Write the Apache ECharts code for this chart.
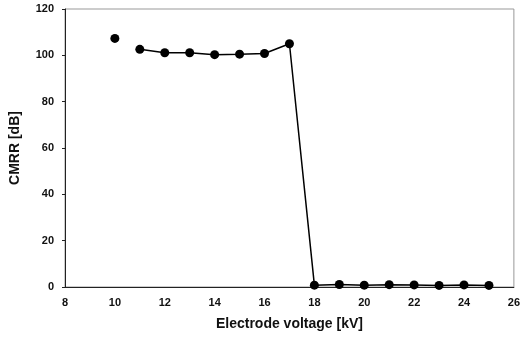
<!DOCTYPE html>
<html><head><meta charset="utf-8">
<script src="https://cdn.jsdelivr.net/npm/echarts@6/dist/echarts.min.js"></script>
<style>html,body{margin:0;padding:0;background:#fff}#c{width:523px;height:337px}</style>
</head><body><div id="c"></div>
<script>
var isolatedVoltage = [10];
var isolatedCmrr = [107.3];
var lineVoltage = [11, 12, 13, 14, 15, 16, 17, 18, 19, 20, 21, 22, 23, 24, 25];
var lineCmrr = [102.6, 101.1, 101.1, 100.3, 100.5, 100.8, 105.0, 0.8, 1.1, 0.8, 1.0, 0.9, 0.7, 0.9, 0.7];
var xTicks = [8, 10, 12, 14, 16, 18, 20, 22, 24, 26];
var yTicks = [0, 20, 40, 60, 80, 100, 120];

function pairs(xs, ys){ return xs.map(function(x,i){ return [x, ys[i]]; }); }

var chart = echarts.init(document.getElementById('c'));
var lblStyle = {color:'#111', fontFamily:'Liberation Sans, Arial', fontWeight:'bold', fontSize:11};
var nameStyle = {color:'#111', fontFamily:'Liberation Sans, Arial', fontWeight:'bold', fontSize:14};
chart.setOption({
  animation:false,
  grid:{left:63, right:8, top:9, bottom:50, show:true, borderColor:'#999', borderWidth:1},
  xAxis:{type:'value', min:xTicks[0], max:xTicks[xTicks.length-1], interval:2,
    name:'Electrode voltage [kV]', nameLocation:'middle', nameGap:30,
    nameTextStyle:nameStyle,
    axisLine:{lineStyle:{color:'#222'}}, axisTick:{show:false},
    axisLabel:Object.assign({margin:10}, lblStyle), splitLine:{show:false}},
  yAxis:{type:'value', min:yTicks[0], max:yTicks[yTicks.length-1], interval:20,
    name:'CMRR [dB]', nameLocation:'middle', nameGap:43,
    nameTextStyle:nameStyle,
    axisLine:{show:true, lineStyle:{color:'#222'}}, axisTick:{show:true, length:3, lineStyle:{color:'#222'}},
    axisLabel:Object.assign({margin:11}, lblStyle), splitLine:{show:false}},
  series:[
    {type:'scatter', data:pairs(isolatedVoltage, isolatedCmrr), symbol:'circle', symbolSize:9,
     itemStyle:{color:'#000', opacity:1}},
    {type:'line', data:pairs(lineVoltage, lineCmrr), symbol:'circle', symbolSize:9, showSymbol:true,
     lineStyle:{color:'#000', width:1.5}, itemStyle:{color:'#000', opacity:1}}
  ]
});
</script></body></html>
